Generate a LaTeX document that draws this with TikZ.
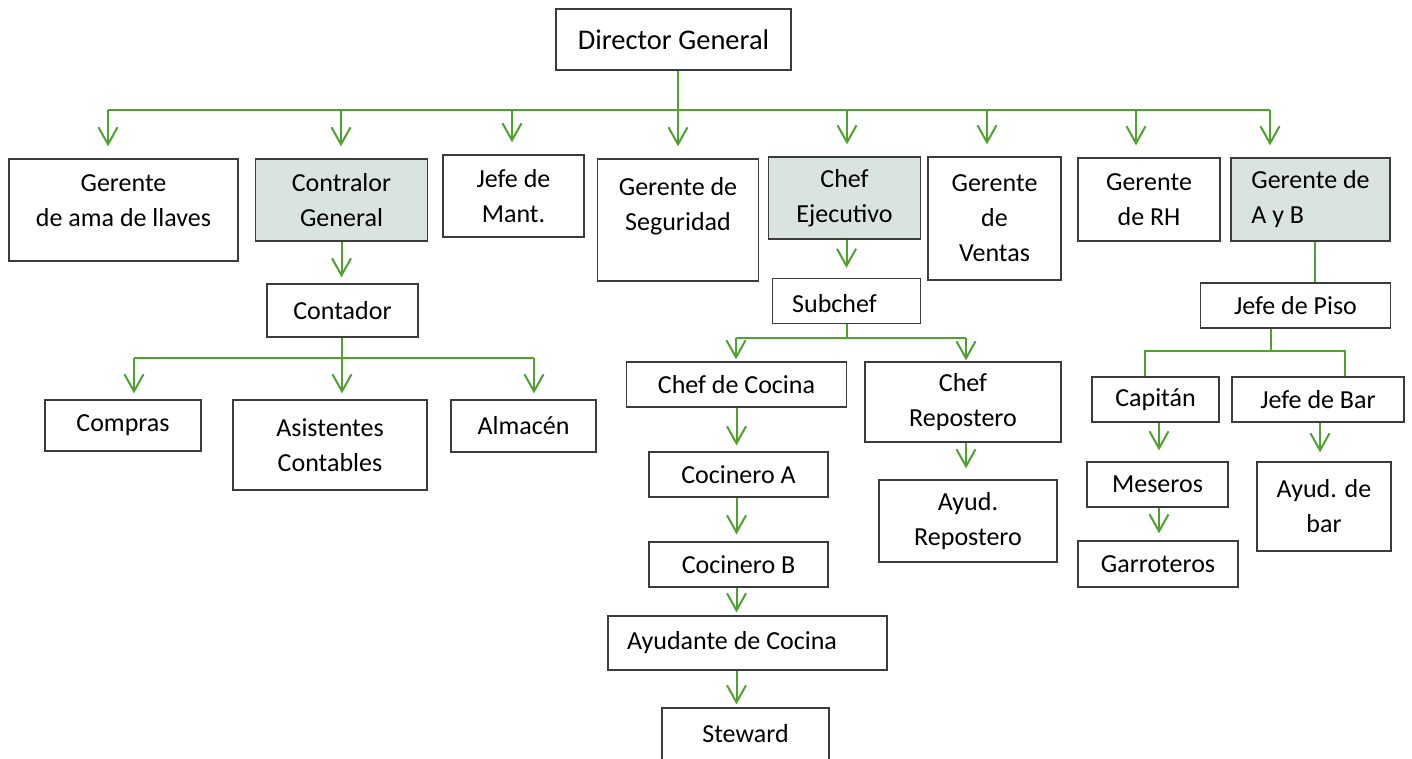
\documentclass[tikz,border=0pt]{standalone}
\usepackage{fontspec}
\setmainfont{Carlito}
\usetikzlibrary{arrows.meta}

\definecolor{linkgreen}{RGB}{80,160,50}
\definecolor{boxgray}{RGB}{60,60,60}
\definecolor{leadfill}{RGB}{216,228,221}
\newcommand{\orgfont}{\fontsize{26}{35}\selectfont}
\newcommand{\topfont}{\fontsize{28.5}{35}\selectfont}

\tikzset{
  unit/.style={draw=boxgray, line width=1.3pt, align=center, font=\orgfont, inner sep=0pt},
  lead/.style={unit, fill=leadfill},
  caption/.style={align=center, font=\orgfont, inner sep=0pt},
  link/.style={draw=linkgreen, line width=2pt},
  arr/.style={link, -{Straight Barb[length=17pt, width=19pt]}},
}

\begin{document}
\begin{tikzpicture}[x=1pt, y=-1pt]

        \useasboundingbox (0,0) rectangle (1412,758);
        \clip (0,0) rectangle (1412,758);

        \node[unit, font=\topfont, minimum width=235pt, minimum height=61pt] (dirGen) at (673.5,39.5) {Director General};

        \node[unit, minimum width=229pt, minimum height=102pt, label={[caption, yshift=9pt]center:{Gerente\\de ama de llaves}}] (gerAma) at (123.5,210) {};
        \node[lead, minimum width=172pt, minimum height=82pt] (contGen) at (341.5,200) {Contralor\\General};
        \node[unit, minimum width=141pt, minimum height=82pt] (jefMant) at (513.5,196) {Jefe de\\Mant.};
        \node[unit, minimum width=161pt, minimum height=122pt, label={[caption, yshift=14pt]center:{Gerente de\\Seguridad}}] (gerSeg) at (678,220) {};
        \node[lead, minimum width=152pt, minimum height=82pt] (chefEj) at (844.5,198) {Chef\\Ejecutivo};
        \node[unit, minimum width=133pt, minimum height=123pt] (gerVen) at (994.5,218.5) {Gerente\\de\\Ventas};
        \node[unit, minimum width=142pt, minimum height=83pt] (gerRH) at (1149,199.5) {Gerente\\de RH};
        \node[lead, minimum width=159pt, minimum height=83pt, align=left] (gerAyB) at (1310.5,199.5) {Gerente de\\A y B};

        \node[unit, minimum width=151pt, minimum height=53pt] (contador) at (342.5,310.5) {Contador};
        \node[unit, minimum width=156pt, minimum height=51pt] (compras) at (123,425.5) {Compras};
        \node[unit, minimum width=194pt, minimum height=90pt] (asist) at (330,445) {Asistentes\\Contables};
        \node[unit, minimum width=145pt, minimum height=52pt] (almacen) at (523.5,426) {Almacén};

        \node[unit, minimum width=148pt, minimum height=45pt, label={[caption, xshift=-12pt, yshift=-3pt]center:Subchef}] (subchef) at (846.5,301) {};
        \node[unit, minimum width=220pt, minimum height=45pt] (chefCoc) at (736.5,384.5) {Chef de Cocina};
        \node[unit, minimum width=196pt, minimum height=80pt] (chefRep) at (963,402) {Chef\\Repostero};
        \node[unit, minimum width=179pt, minimum height=45pt] (cocA) at (738.5,474.5) {Cocinero A};
        \node[unit, minimum width=179pt, minimum height=45pt] (cocB) at (738.5,564.5) {Cocinero B};
        \node[unit, minimum width=279pt, minimum height=54pt, label={[caption, xshift=-15.5pt]center:{Ayudante de Cocina}}] (ayuCoc) at (747.5,643) {};
        \node[unit, minimum width=167pt, minimum height=80pt, label={[caption, yshift=14pt]center:Steward}] (steward) at (745.5,748) {};
        \node[unit, minimum width=178pt, minimum height=82pt] (ayuRep) at (968,521) {Ayud.\\Repostero};

        \node[unit, minimum width=190pt, minimum height=45pt] (jefPiso) at (1295.5,305.5) {Jefe de Piso};
        \node[unit, minimum width=127pt, minimum height=45pt] (capitan) at (1155.5,399.5) {Capitán};
        \node[unit, minimum width=172pt, minimum height=45pt] (jefBar) at (1318,399.5) {Jefe de Bar};
        \node[unit, minimum width=141pt, minimum height=45pt] (meseros) at (1157.5,484.5) {Meseros};
        \node[unit, minimum width=160pt, minimum height=46pt] (garrot) at (1158,564) {Garroteros};
        \node[unit, minimum width=134pt, minimum height=89pt] (ayuBar) at (1324,506.5) {Ayud. de\\bar};

        \foreach \i/\bx in {1/108, 2/341, 3/512, 4/678, 5/847, 6/987, 7/1136, 8/1270}
          \coordinate (t\i) at (\bx,110);
        \draw[link] (dirGen.south -| t4) -- (t4);
        \draw[link] (t1) -- (t8);
        \foreach \i/\nd in {1/gerAma, 2/contGen, 3/jefMant, 4/gerSeg, 5/chefEj, 6/gerVen, 7/gerRH, 8/gerAyB}
          \draw[arr, shorten >=12pt] (t\i) -- (t\i |- \nd.north);

        \draw[arr, shorten >=6pt] (contGen.south) -- (contGen.south |- contador.north);
        \coordinate (c1) at (134,358);
        \coordinate (c2) at (342,358);
        \coordinate (c3) at (534,358);
        \draw[link] (contador.south -| c2) -- (c2);
        \draw[link] (c1) -- (c3);
        \foreach \i/\nd in {1/compras, 2/asist, 3/almacen}
          \draw[arr, shorten >=6pt] (c\i) -- (c\i |- \nd.north);

        \draw[arr, shorten >=10pt] (chefEj.south -| subchef.north) -- (subchef.north);
        \coordinate (s1) at (736,338);
        \coordinate (s2) at (966,338);
        \draw[link] (subchef.south) -- (subchef.south |- s1);
        \draw[link] (s1) -- (s2);
        \draw[arr, shorten >=2pt] (s1) -- (s1 |- chefCoc.north);
        \draw[arr, shorten >=1pt] (s2) -- (s2 |- chefRep.north);
        \draw[arr, shorten >=6pt] (chefCoc.south) -- (chefCoc.south |- cocA.north);
        \draw[arr, shorten >=7pt] (cocA.south -| chefCoc.south) -- (chefCoc.south |- cocB.north);
        \draw[arr, shorten >=3pt] (cocB.south -| chefCoc.south) -- (chefCoc.south |- ayuCoc.north);
        \draw[arr, shorten >=3pt] (ayuCoc.south -| chefCoc.south) -- (chefCoc.south |- steward.north);
        \draw[arr, shorten >=11pt] (chefRep.south -| s2) -- (s2 |- ayuRep.north);

        \draw[link] ([xshift=4.5pt]gerAyB.south) coordinate (p0) -- (p0 |- jefPiso.north);
        \coordinate (j1) at (1145,351);
        \coordinate (j2) at (1345,351);
        \draw[link] ([xshift=-24.5pt]jefPiso.south) coordinate (j0) -- (j0 |- j1);
        \draw[link] (j1 |- capitan.north) -- (j1) -- (j2) -- (j2 |- jefBar.north);
        \draw[arr, shorten >=11pt] ([xshift=3.5pt]capitan.south) coordinate (m0) -- (m0 |- meseros.north);
        \draw[arr, shorten >=7pt] (meseros.south -| m0) -- (m0 |- garrot.north);
        \draw[arr, shorten >=9pt] ([xshift=2pt]jefBar.south) coordinate (b0) -- (b0 |- ayuBar.north);

      \end{tikzpicture}
\end{document}
